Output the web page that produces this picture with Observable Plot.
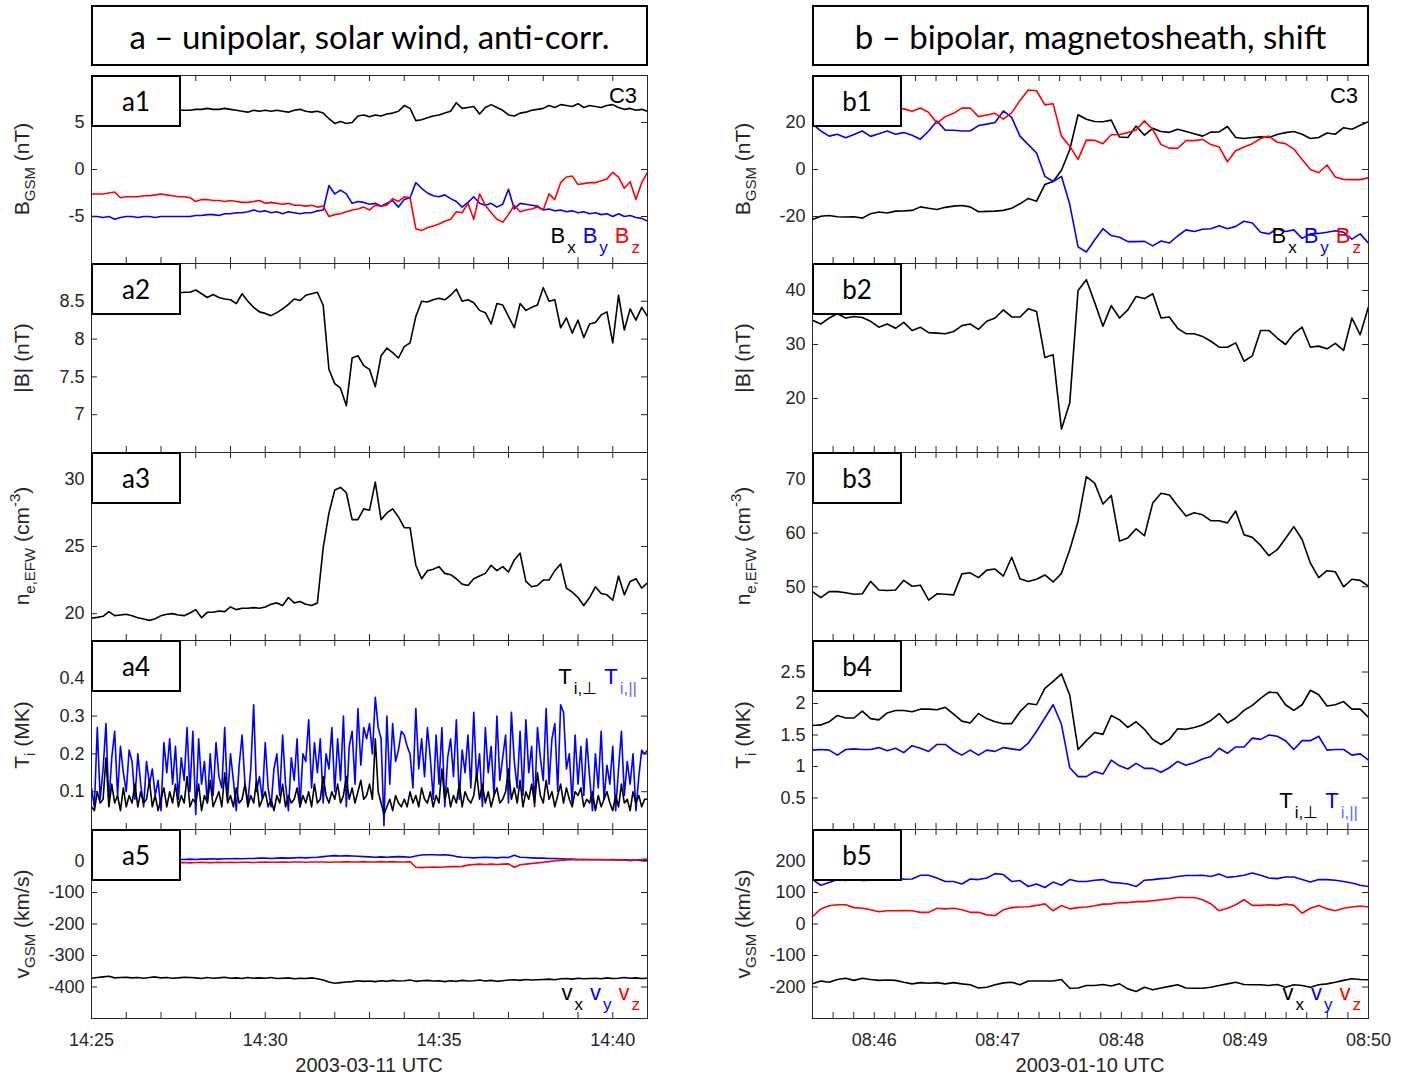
<!DOCTYPE html>
<html><head><meta charset="utf-8">
<script src="https://cdn.jsdelivr.net/npm/d3@7"></script>
<script src="https://cdn.jsdelivr.net/npm/@observablehq/plot@0.6"></script>
<style>
body{margin:0;background:#fff;}
#root{position:relative;width:1418px;height:1083px;overflow:hidden;font-family:"Liberation Sans",Arial,sans-serif;color:#262626;}
.pl{position:absolute;}
.title{position:absolute;border:2px solid #000;box-sizing:border-box;display:flex;align-items:center;justify-content:center;font-family:Lato,"Open Sans",sans-serif;font-size:33px;background:#fff;color:#000;white-space:nowrap;}
.lab{position:absolute;border:2px solid #000;box-sizing:border-box;display:flex;align-items:center;justify-content:center;font-family:Lato,"Open Sans",sans-serif;font-size:26px;background:#fff;width:90px;height:52px;color:#000;}
.ylab{position:absolute;transform:translate(-50%,-50%) rotate(-90deg);white-space:nowrap;font-size:21px;color:#262626;}
.ylab sub{font-size:15px;vertical-align:-6px;line-height:0;}
.ylab sup{font-size:15px;vertical-align:9px;line-height:0;}
.leg{position:absolute;font-size:22px;white-space:nowrap;color:#000;line-height:24px;}
.leg sub{font-size:17px;vertical-align:-10px;line-height:0;margin-left:2px;}
.leg .g{margin-left:7px;}
.xlab{position:absolute;transform:translateX(-50%);font-size:20px;color:#262626;white-space:nowrap;}
</style>
</head><body><div id="root"></div>
<script>
// ---------------- DATA ----------------
// Column a: 2003-03-11, 14:25 - 14:41 UTC, 10 s sampling (a1,a2,a3,a5), 5 s (a4)
const aBx = [6.4,6.5,6.4,6.3,6.4,6.5,6.4,6.3,6.4,6.4,6.5,6.4,6.3,6.4,6.5,6.3,
 6.3,6.3,6.4,6.4,6.5,6.4,6.4,6.5,6.4,6.3,6.2,6.1,6.3,6.2,
 6.3,6.2,6.3,6.2,6.1,6.3,6.4,6.2,6.1,6.2,
 6.0,5.4,4.9,5.1,4.9,5.0,5.7,5.8,5.6,5.8,5.7,5.9,6.0,6.2,
 6.8,6.5,5.2,5.3,5.5,5.7,5.8,6.0,6.2,7.1,6.5,6.6,6.7,5.9,6.6,6.9,6.6,6.3,
 5.8,5.7,6.0,6.1,6.3,6.4,6.5,6.8,6.6,6.9,6.8,6.7,7.0,6.6,6.8,6.7,6.6,6.8,6.9,6.6,6.4,6.5,6.3,6.4,6.2];
const aBy = [-5.0,-5.0,-5.1,-5.0,-5.3,-5.1,-5.0,-5.0,-5.1,-5.0,-5.0,-5.1,-5.0,-5.0,-5.0,-5.0,
 -5.0,-5.0,-4.9,-4.9,-4.8,-4.8,-4.9,-4.7,-4.7,-4.6,-4.6,-4.5,-4.3,-4.5,-4.4,-4.6,-4.5,-4.7,-4.5,-4.6,-4.7,-4.6,-4.6,-4.4,
 -4.3,-1.7,-2.6,-2.2,-2.6,-3.6,-3.4,-3.5,-3.7,-3.6,-3.9,-3.6,-3.3,-4.0,-3.2,-3.0,
 -1.4,-2.0,-2.5,-2.8,-2.9,-2.7,-3.1,-3.4,-4.0,-3.5,-2.9,-3.6,-3.8,-3.6,-4.0,-3.7,
 -2.1,-4.2,-3.6,-3.7,-3.8,-3.9,-4.3,-4.2,-4.4,-4.3,-4.5,-4.4,-4.6,-4.5,-4.7,-4.6,-4.8,-4.7,-5.0,-4.7,-5.0,-4.9,-5.1,-5.2,-5.5];
const aBz = [-2.6,-2.6,-2.6,-2.5,-2.4,-3.0,-2.9,-2.9,-2.9,-2.8,-2.8,-2.7,-2.6,-2.7,-2.8,-2.9,
 -2.9,-3.0,-3.4,-3.2,-3.2,-3.3,-3.3,-3.4,-3.3,-3.4,-3.5,-3.5,-3.4,-3.3,-3.6,-3.5,-3.6,-3.7,-3.6,-3.8,-3.8,-3.9,-3.8,-4.0,
 -3.9,-5.0,-4.8,-4.7,-4.5,-4.3,-4.2,-4.0,-4.3,-3.8,-3.9,-3.8,-3.1,-3.4,-2.9,-3.0,
 -6.3,-6.5,-6.2,-6.0,-5.8,-5.5,-5.3,-4.5,-4.6,-3.6,-5.3,-2.6,-3.8,-4.6,-5.3,-5.6,
 -4.8,-3.8,-4.5,-4.3,-4.2,-4.0,-4.3,-2.6,-3.2,-1.4,-0.8,-0.7,-1.6,-1.5,-1.4,-1.4,-1.2,-1.0,-0.3,-0.8,-2.0,-1.3,-3.2,-1.4,-0.3];
const aBmag = [8.62,8.63,8.62,8.64,8.63,8.62,8.61,8.63,8.62,8.64,8.63,8.62,8.61,8.62,8.62,8.61,
 8.62,8.62,8.65,8.60,8.55,8.59,8.55,8.53,8.52,8.47,8.60,8.50,8.42,8.36,8.34,8.31,8.35,8.40,8.46,8.53,8.51,8.58,8.60,8.62,
 8.45,7.60,7.41,7.35,7.12,7.75,7.78,7.65,7.60,7.37,7.78,7.88,7.82,7.75,7.90,7.95,
 8.30,8.50,8.49,8.52,8.54,8.52,8.58,8.66,8.50,8.52,8.48,8.38,8.35,8.20,8.47,8.45,
 8.30,8.15,8.47,8.38,8.42,8.45,8.68,8.50,8.52,8.15,8.28,8.08,8.25,8.02,8.20,8.22,8.32,8.36,7.95,8.58,8.12,8.40,8.25,8.42,8.30];
const aNe = [19.66,19.72,19.8,20.15,19.85,19.9,19.95,19.85,19.7,19.6,19.5,19.62,19.85,19.95,20.0,19.9,
 19.85,20.05,20.3,19.7,20.1,20.1,20.2,20.15,20.5,20.3,20.4,20.4,20.45,20.4,20.5,20.7,20.8,20.6,21.2,20.8,20.9,20.7,20.6,20.8,
 24.9,27.5,29.2,29.4,29.0,27.0,27.0,27.8,27.7,29.8,27.0,27.5,27.8,27.2,26.4,26.4,
 23.6,22.6,23.2,23.3,23.5,23.0,22.9,22.6,22.2,22.1,22.6,22.8,23.0,23.6,23.2,23.5,
 23.1,24.0,24.5,22.4,22.0,22.1,22.5,22.5,23.2,23.7,21.9,21.6,21.2,20.6,21.2,22.0,21.5,21.4,21.0,22.8,21.4,22.4,22.6,21.9,22.3];
const aTpar = [0.11,0.06,0.27,0.08,0.16,0.28,0.07,0.19,0.26,0.09,0.22,0.15,
 0.10,0.21,0.18,0.08,0.20,0.12,0.06,0.18,0.12,0.16,0.09,0.13,
 0.05,0.23,0.15,0.24,0.12,0.22,0.08,0.19,0.13,0.27,0.10,0.26,
 0.04,0.24,0.12,0.18,0.07,0.20,0.09,0.23,0.14,0.11,0.27,0.08,
 0.20,0.13,0.05,0.17,0.25,0.12,0.07,0.16,0.33,0.10,0.14,0.08,
 0.23,0.11,0.06,0.16,0.20,0.09,0.25,0.12,0.05,0.19,0.13,0.24,
 0.06,0.20,0.18,0.29,0.11,0.23,0.15,0.24,0.07,0.20,0.16,0.27,
 0.10,0.24,0.13,0.30,0.06,0.22,0.26,0.12,0.32,0.17,0.27,0.24,
 0.28,0.20,0.35,0.27,0.24,0.01,0.30,0.12,0.28,0.18,0.21,0.26,
 0.25,0.22,0.20,0.11,0.32,0.16,0.24,0.14,0.27,0.19,0.08,0.25,
 0.12,0.27,0.06,0.19,0.24,0.14,0.29,0.08,0.21,0.15,0.25,0.11,
 0.31,0.13,0.20,0.06,0.27,0.15,0.22,0.09,0.30,0.13,0.19,0.25,
 0.07,0.31,0.18,0.11,0.26,0.09,0.29,0.15,0.22,0.06,0.27,0.19,
 0.13,0.32,0.12,0.24,0.28,0.10,0.33,0.31,0.16,0.20,0.07,0.25,
 0.12,0.22,0.09,0.24,0.14,0.05,0.20,0.11,0.26,0.08,0.17,0.12,
 0.22,0.05,0.16,0.26,0.09,0.18,0.12,0.20,0.05,0.14,0.21,0.20,
 0.21];
const aTperp = [0.06,0.05,0.10,0.07,0.08,0.19,0.06,0.12,0.07,0.09,0.05,0.11,
 0.06,0.09,0.07,0.12,0.06,0.10,0.07,0.08,0.13,0.06,0.09,0.05,
 0.08,0.11,0.06,0.10,0.07,0.12,0.06,0.09,0.07,0.14,0.06,0.08,
 0.07,0.12,0.05,0.09,0.07,0.13,0.06,0.08,0.10,0.06,0.15,0.07,
 0.09,0.06,0.11,0.07,0.08,0.12,0.06,0.09,0.07,0.13,0.06,0.08,
 0.10,0.06,0.08,0.05,0.09,0.07,0.12,0.06,0.09,0.07,0.08,0.11,
 0.06,0.09,0.07,0.10,0.06,0.12,0.07,0.08,0.14,0.09,0.07,0.10,
 0.08,0.12,0.07,0.09,0.14,0.08,0.11,0.07,0.10,0.13,0.08,0.09,
 0.12,0.08,0.24,0.10,0.07,0.04,0.06,0.08,0.05,0.09,0.07,0.06,
 0.08,0.06,0.10,0.07,0.09,0.06,0.11,0.08,0.07,0.10,0.06,0.09,
 0.07,0.16,0.08,0.11,0.06,0.09,0.07,0.12,0.06,0.10,0.08,0.07,
 0.09,0.15,0.08,0.12,0.07,0.10,0.06,0.09,0.11,0.07,0.08,0.10,
 0.16,0.08,0.11,0.07,0.13,0.06,0.10,0.08,0.12,0.07,0.15,0.09,
 0.07,0.13,0.08,0.10,0.06,0.09,0.12,0.07,0.11,0.08,0.06,0.10,
 0.09,0.11,0.06,0.08,0.07,0.10,0.05,0.09,0.06,0.08,0.10,0.07,
 0.05,0.09,0.06,0.12,0.07,0.08,0.05,0.10,0.07,0.09,0.06,0.08,
 0.08];
const aVx = [-372,-370,-368,-366,-371,-370,-369,-371,-370,-372,-370,-368,-371,-370,-372,-371,
 -369,-370,-371,-373,-370,-372,-371,-369,-372,-371,-373,-370,-372,-371,-372,-370,-373,-372,-371,-374,-372,-373,-371,-374,
 -378,-384,-388,-386,-384,-383,-380,-382,-381,-383,-380,-382,-379,-381,-380,-378,
 -382,-380,-379,-381,-380,-383,-380,-382,-379,-381,-380,-378,-381,-379,-382,-380,
 -378,-377,-379,-376,-378,-377,-376,-375,-377,-374,-373,-375,-372,-374,-373,-372,-374,-371,-373,-372,-370,-372,-371,-373,-372];
const aVy = [2,3,2,4,3,3,4,3,4,5,4,5,5,4,5,5,
 5,6,5,6,6,7,6,7,7,8,7,8,8,9,9,8,9,10,9,10,11,10,11,12,
 14,16,17,16,17,16,15,14,13,12,13,12,13,14,13,12,
 16,19,20,20,19,20,18,14,12,11,10,11,12,11,10,12,
 11,18,12,11,10,9,9,8,8,7,6,6,5,5,5,4,4,4,4,3,4,3,3,2,2];
const aVz = [-5,-5,-6,-5,-4,-5,-6,-5,-5,-4,-5,-6,-5,-5,-6,-5,
 -5,-6,-5,-4,-5,-5,-4,-5,-4,-5,-4,-4,-5,-4,-3,-4,-4,-3,-4,-3,-3,-4,-3,-3,
 -3,-4,-3,-3,-2,-3,-3,-2,-3,-3,-2,-3,-2,-3,-3,-2,
 -20,-21,-20,-19,-20,-19,-18,-18,-17,-13,-11,-10,-11,-10,-11,-10,
 -9,-20,-12,-10,-8,-6,-4,-2,1,2,3,4,4,5,4,5,5,4,5,4,3,1,3,5,6];

// Column b: 2003-01-10, 08:45:30 - 08:50:00 UTC, spin resolution (68 samples)
const bBx = [-21.3,-19.9,-19.6,-20.1,-20.2,-20.1,-20.7,-18.8,-18.1,-18.5,-17.7,-17.6,-17.4,-15.9,-16.5,-17.0,-16.1,-15.6,-15.3,-15.9,
 -18.0,-17.8,-17.7,-17.4,-16.5,-14.6,-12.3,-13.5,-6.4,-5.1,-0.3,8.4,23.3,21.4,20.4,20.3,21.0,13.8,13.6,18.5,
 14.6,17.5,16.2,15.8,17.1,16.2,15.2,14.2,15.9,16.0,18.3,13.6,13.2,13.6,13.9,13.6,14.9,15.7,16.2,15.0,
 13.2,13.6,15.5,15.0,17.8,17.1,18.8,20.4];
const bBy = [19.3,16.4,14.2,15.0,13.5,14.9,16.4,14.1,15.2,16.4,15.0,15.7,14.6,12.9,16.4,20.6,16.7,16.7,16.4,16.4,
 18.7,19.3,20.0,24.9,22.2,14.2,10.6,7.0,-2.9,-5.1,-2.9,-14.8,-32.9,-35.1,-30.0,-25.2,-28.1,-28.8,-30.7,-30.7,
 -30.6,-32.5,-30.4,-31.3,-28.3,-25.7,-26.4,-25.4,-25.2,-23.9,-25.2,-24.2,-22.0,-22.8,-26.7,-27.4,-25.2,-26.4,-25.7,-29.3,
 -27.4,-27.2,-26.7,-26.1,-26.7,-29.6,-27.4,-31.4];
const bBz = [25.5,26.0,25.8,26.3,25.6,26.2,25.9,26.5,25.7,26.0,25.8,25.8,24.8,26.2,24.3,19.7,22.5,23.9,26.1,26.2,
 22.5,23.2,23.9,21.4,24.1,29.4,33.8,33.5,27.5,28.0,14.2,9.9,4.3,12.5,12.4,11.0,14.8,14.9,15.7,16.8,
 20.7,17.1,10.6,9.1,9.0,12.3,12.3,12.8,10.6,9.6,3.3,8.0,9.6,11.0,13.2,14.2,11.6,11.0,8.7,4.3,
 0.0,-1.4,1.9,-3.2,-4.2,-4.3,-4.3,-3.5];
const bBmag = [34.5,33.8,34.9,35.7,34.9,35.2,35.0,34.3,33.2,33.8,33.0,34.1,32.6,33.2,32.2,32.1,32.0,32.4,33.5,33.8,
 32.8,34.3,34.9,36.4,35.1,35.1,36.6,36.1,27.6,28.1,14.3,19.2,40.0,42.0,37.8,33.4,37.2,34.9,36.4,38.9,
 38.5,39.4,34.9,35.1,33.0,32.0,32.0,31.5,30.6,29.5,29.5,30.3,26.9,27.9,32.6,32.6,31.2,30.0,32.0,33.2,
 29.5,29.7,29.2,30.2,28.9,34.9,31.8,37.0];
const bNe = [49.1,48.0,49.1,49.1,48.9,48.6,48.7,51.0,49.4,49.3,49.4,51.2,50.1,50.3,47.5,48.7,48.6,48.5,52.4,52.6,
 51.7,53.1,53.3,52.0,55.5,51.5,51.0,51.4,52.2,50.9,52.5,56.9,62.2,70.5,69.3,65.4,67.0,58.5,59.1,60.8,
 59.5,65.6,67.4,67.1,65.1,63.2,63.8,63.4,62.3,62.3,61.9,64.1,59.7,59.2,57.7,55.8,56.9,59.0,61.2,58.8,
 54.4,51.7,53.0,52.8,50.0,51.4,51.2,50.1];
const bTperp = [1.65,1.66,1.71,1.81,1.77,1.77,1.88,1.76,1.74,1.85,1.89,1.89,1.87,1.91,1.91,1.90,1.94,1.83,1.72,1.69,
 1.84,1.76,1.71,1.68,1.68,1.87,2.00,1.98,2.24,2.35,2.47,2.13,1.27,1.41,1.54,1.51,1.81,1.74,1.62,1.71,
 1.59,1.43,1.35,1.43,1.60,1.59,1.62,1.66,1.73,1.84,1.69,1.77,1.89,1.97,2.08,2.18,2.17,1.98,1.89,1.98,
 2.21,2.14,1.96,1.98,2.03,1.91,1.91,1.78];
const bTpar = [1.26,1.27,1.26,1.18,1.27,1.28,1.27,1.27,1.30,1.25,1.29,1.22,1.33,1.29,1.24,1.35,1.35,1.25,1.18,1.26,
 1.18,1.26,1.24,1.30,1.28,1.26,1.37,1.56,1.77,1.98,1.67,0.98,0.84,0.84,0.92,0.88,1.10,1.01,0.96,1.05,
 0.97,0.97,0.91,0.98,1.08,1.02,1.06,1.12,1.16,1.29,1.21,1.31,1.31,1.45,1.43,1.50,1.48,1.41,1.27,1.41,
 1.41,1.48,1.26,1.27,1.27,1.18,1.20,1.10];
const bVx = [-190,-181,-185,-176,-172,-179,-172,-176,-179,-178,-179,-185,-190,-186,-188,-186,-190,-186,-190,-193,
 -203,-201,-193,-187,-185,-193,-181,-181,-181,-181,-176,-204,-203,-195,-195,-192,-197,-190,-206,-214,
 -201,-209,-203,-198,-193,-203,-204,-204,-201,-195,-190,-185,-192,-193,-193,-195,-192,-201,-193,-195,
 -201,-193,-190,-185,-179,-174,-176,-177];
const bVy = [141,123,132,141,138,143,138,139,143,144,149,142,143,155,155,146,135,135,127,143,
 141,146,160,157,135,138,119,127,116,133,123,141,135,135,139,141,132,130,127,119,
 139,141,144,146,151,154,154,155,151,159,148,151,155,162,155,146,144,149,149,141,
 133,141,141,139,135,130,123,119];
const bVz = [23,48,58,61,61,52,50,45,39,42,42,43,42,37,37,50,48,50,45,37,
 37,29,27,45,52,54,55,59,64,42,59,48,52,54,58,63,64,68,68,71,
 71,74,77,80,84,84,84,77,64,42,50,61,77,59,59,61,59,63,59,34,
 50,59,48,42,50,54,57,54];

// axis tick values
const yTicksA = [[-5,0,5],[7,7.5,8,8.5],[20,25,30],[0.1,0.2,0.3,0.4],[-400,-300,-200,-100,0]];
const yDomA = [[-10,10],[6.5,9],[18,32],[0,0.5],[-500,100]];
const yTicksB = [[-20,0,20],[20,30,40],[50,60,70],[0.5,1,1.5,2,2.5],[-200,-100,0,100,200]];
const yDomB = [[-40,40],[10,45],[40,75],[0,3],[-300,300]];
const xLabelsA = ["14:25","14:30","14:35","14:40"];
const xLabelsB = ["08:46","08:47","08:48","08:49","08:50"];

// ---------------- LAYOUT ----------------
const root = document.getElementById("root");
const A0 = Date.UTC(2003,2,11,14,25,0), A1 = Date.UTC(2003,2,11,14,41,0);
const B0 = Date.UTC(2003,0,10,8,45,30), B1 = Date.UTC(2003,0,10,8,50,0);
const hm = (base, s) => { const [h,m] = s.split(":").map(Number); const d = new Date(base); d.setUTCHours(h, m, 0, 0); return d; };
const cols = {
  a: {x: 91, w: 556, domain: [new Date(A0), new Date(A1)],
      minor: d3.utcMinute.every(1).range(new Date(A0), new Date(A1 + 1)),
      labels: xLabelsA.map(s => hm(A0, s))},
  b: {x: 812, w: 556, domain: [new Date(B0), new Date(B1)],
      minor: d3.utcSecond.every(10).range(new Date(B0), new Date(B1 + 1)),
      labels: xLabelsB.map(s => hm(B0, s))}
};
const rows = [[75,263],[263,452],[452,640],[640,829],[829,1018]];
const ser = (vals, t0, t1) => { const st = (t1 - t0) / (vals.length - 1); return vals.map((v, i) => ({t: new Date(t0 + i * st), v})); };
const INK = "#262626";

function panel(col, r, yDom, yTicks, lines) {
  const c = cols[col]; const [top, bot] = rows[r]; const H = bot - top;
  const bottom = r === 4;
  const mL = 80, mR = 20, mT = 10, mB = bottom ? 50 : 10;
  const marks = [];
  for (const [vals, color, t0, t1] of lines)
    marks.push(Plot.lineY(ser(vals, t0, t1), {x: "t", y: "v", stroke: color, strokeWidth: 1.6, clip: true}));
  marks.push(
    Plot.tickX(c.minor, {x: d => d, insetTop: H - 6, stroke: INK}),
    Plot.tickX(c.minor, {x: d => d, insetBottom: H - 6, stroke: INK}),
    Plot.tickY(yTicks, {y: d => d, insetRight: c.w - 6, stroke: INK}),
    Plot.tickY(yTicks, {y: d => d, insetLeft: c.w - 6, stroke: INK}),
    Plot.axisY(yTicks, {tickSize: 0, tickPadding: 7, label: null, tickFormat: d => String(d)}),
    Plot.frame({stroke: INK, strokeWidth: 1})
  );
  if (bottom) marks.push(Plot.axisX(c.labels, {tickSize: 0, tickPadding: 15, label: null, tickFormat: d3.utcFormat("%H:%M")}));
  const svg = Plot.plot({
    width: mL + c.w + mR, height: mT + H + mB,
    marginLeft: mL, marginRight: mR, marginTop: mT, marginBottom: mB,
    style: {background: "transparent", overflow: "visible", fontFamily: "'Liberation Sans', Arial, sans-serif", fontSize: "18px", color: INK},
    x: {type: "utc", domain: c.domain, axis: bottom ? undefined : null},
    y: {domain: yDom},
    marks
  });
  const div = document.createElement("div");
  div.className = "pl";
  div.style.left = (c.x - mL) + "px";
  div.style.top = (top - mT) + "px";
  div.appendChild(svg);
  root.appendChild(div);
}

const K = "#000000", BL = "#0000ff", RD = "#ff0000";
panel("a", 0, yDomA[0], yTicksA[0], [[aBx,K,A0,A1],[aBy,BL,A0,A1],[aBz,RD,A0,A1]]);
panel("a", 1, yDomA[1], yTicksA[1], [[aBmag,K,A0,A1]]);
panel("a", 2, yDomA[2], yTicksA[2], [[aNe,K,A0,A1]]);
panel("a", 3, yDomA[3], yTicksA[3], [[aTpar,BL,A0,A1],[aTperp,K,A0,A1]]);
panel("a", 4, yDomA[4], yTicksA[4], [[aVx,K,A0,A1],[aVy,BL,A0,A1],[aVz,RD,A0,A1]]);
panel("b", 0, yDomB[0], yTicksB[0], [[bBx,K,B0,B1],[bBy,BL,B0,B1],[bBz,RD,B0,B1]]);
panel("b", 1, yDomB[1], yTicksB[1], [[bBmag,K,B0,B1]]);
panel("b", 2, yDomB[2], yTicksB[2], [[bNe,K,B0,B1]]);
panel("b", 3, yDomB[3], yTicksB[3], [[bTperp,K,B0,B1],[bTpar,BL,B0,B1]]);
panel("b", 4, yDomB[4], yTicksB[4], [[bVx,K,B0,B1],[bVy,BL,B0,B1],[bVz,RD,B0,B1]]);

// ---------------- TEXT ----------------
function add(html, cls, style) {
  const d = document.createElement("div"); d.className = cls; d.innerHTML = html;
  Object.assign(d.style, style); root.appendChild(d); return d;
}
add("a – unipolar, solar wind, anti-corr.", "title", {left: "91px", top: "5px", width: "557px", height: "61px"});
add("b – bipolar, magnetosheath, shift", "title", {left: "812px", top: "5px", width: "557px", height: "61px"});
const labsA = ["a1","a2","a3","a4","a5"], labsB = ["b1","b2","b3","b4","b5"];
rows.forEach(([t], i) => {
  add(labsA[i], "lab", {left: "91px", top: t + "px"});
  add(labsB[i], "lab", {left: "812px", top: t + "px"});
});
const ylabs = ["B<sub>GSM</sub> (nT)", "|B| (nT)", "n<sub>e,EFW</sub> (cm<sup>-3</sup>)", "T<sub>i</sub> (MK)", "v<sub>GSM</sub> (km/s)"];
rows.forEach(([t, b], i) => {
  add(ylabs[i], "ylab", {left: "22px", top: ((t + b) / 2) + "px"});
  add(ylabs[i], "ylab", {left: "743px", top: ((t + b) / 2) + "px"});
});
add("2003-03-11 UTC", "xlab", {left: "369px", top: "1054px"});
add("2003-01-10 UTC", "xlab", {left: "1090px", top: "1054px"});

const bLeg = `B<sub>x</sub><span class="g" style="color:${BL}">B<sub>y</sub></span><span class="g" style="color:${RD}">B<sub>z</sub></span>`;
const vLeg = `v<sub>x</sub><span class="g" style="color:${BL}">v<sub>y</sub></span><span class="g" style="color:${RD}">v<sub>z</sub></span>`;
const tLeg = `T<sub>i,⊥</sub><span class="g" style="color:${BL}">T<sub style="color:#6a6aff">i,||</sub></span>`;
add("C3", "leg", {right: (1418 - 637) + "px", top: "84px"});
add("C3", "leg", {right: (1418 - 1358) + "px", top: "84px"});
add(bLeg, "leg", {right: (1418 - 640) + "px", top: "224px"});
add(bLeg, "leg", {right: (1418 - 1361) + "px", top: "224px"});
add(tLeg, "leg", {right: (1418 - 637) + "px", top: "665px"});
add(tLeg, "leg", {right: (1418 - 1358) + "px", top: "789px"});
add(vLeg, "leg", {right: (1418 - 640) + "px", top: "981px"});
add(vLeg, "leg", {right: (1418 - 1361) + "px", top: "981px"});
</script></body></html>
